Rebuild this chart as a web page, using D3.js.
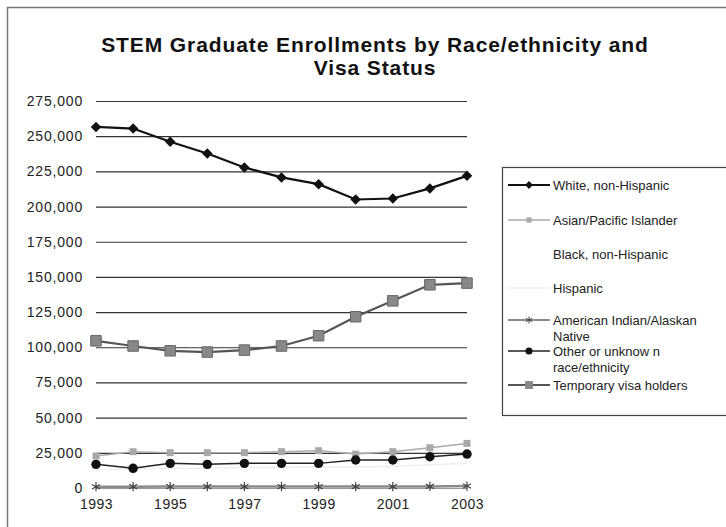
<!DOCTYPE html>
<html>
<head>
<meta charset="utf-8">
<script src="https://cdn.jsdelivr.net/npm/d3@7"></script>
<style>
  body { margin: 0; background: #fff; }
  svg { display: block; font-family: "Liberation Sans", Arial, sans-serif; }
</style>
</head>
<body>
<div id="wrapper"></div>
<script>
// years on the x axis
const years = [1993, 1994, 1995, 1996, 1997, 1998, 1999, 2000, 2001, 2002, 2003];
const yTicks = [0, 25000, 50000, 75000, 100000, 125000, 150000, 175000, 200000, 225000, 250000, 275000];

// series values
const white = [256600, 255400, 246000, 237700, 227800, 220700, 215900, 205000, 205700, 212900, 221800];
const asian = [22700, 25800, 25100, 25100, 25100, 25800, 26500, 24100, 25800, 28600, 31700];
const black = [19500, 20000, 20500, 21000, 21500, 22000, 22500, 23000, 23500, 24500, 25500];
const hispanic = [13000, 13500, 14000, 14000, 14500, 14500, 15000, 15000, 15500, 16500, 17500];
const amIndian = [900, 950, 1000, 1000, 1000, 1000, 1000, 1000, 1000, 1100, 1400];
const other = [16800, 14000, 17500, 16800, 17500, 17500, 17500, 19900, 19900, 22200, 24100];
const tempVisa = [104600, 100900, 97500, 96600, 98000, 100900, 108200, 121700, 133000, 144400, 145600];

const seriesNames = [
  "White, non-Hispanic",
  "Asian/Pacific Islander",
  "Black, non-Hispanic",
  "Hispanic",
  "American Indian/Alaskan Native",
  "Other or unknow n race/ethnicity",
  "Temporary visa holders"
];

function drawChart() {
  const width = 726, height = 527;
  const plot = { left: 96, right: 467, top: 101, bottom: 488 };

  const svg = d3.select("#wrapper").append("svg")
      .attr("width", width)
      .attr("height", height);

  // outer frame
  svg.append("rect")
      .attr("x", 7.5).attr("y", 7.5)
      .attr("width", 800).attr("height", 600)
      .attr("fill", "none")
      .attr("stroke", "#777")
      .attr("stroke-width", 1.5);

  // title
  const title = svg.append("text")
      .attr("text-anchor", "middle")
      .attr("font-weight", "bold")
      .attr("font-size", 21)
      .attr("letter-spacing", 0.9)
      .attr("fill", "#111");
  title.append("tspan").attr("x", 375).attr("y", 52).text("STEM Graduate Enrollments by Race/ethnicity and");
  title.append("tspan").attr("x", 375).attr("y", 75).text("Visa Status");

  // scales
  const xScale = d3.scalePoint()
      .domain(years)
      .range([plot.left, plot.right]);

  const yScale = d3.scaleLinear()
      .domain([0, 275000])
      .range([plot.bottom, plot.top]);

  const series = {
    white: { values: white, line: "#111", width: 2.2, marker: "diamond", fill: "#111", size: 7.5 },
    asian: { values: asian, line: "#aaa", width: 1.5, marker: "square", fill: "#a8a8a8", size: 7 },
    black: { values: black, line: "#ffffff", width: 1.5, marker: "none" },
    hispanic: { values: hispanic, line: "#eeeeee", width: 1.5, marker: "none" },
    amIndian: { values: amIndian, line: "#8a8a8a", width: 2.5, marker: "asterisk", fill: "#444", size: 60 },
    other: { values: other, line: "#222", width: 1.5, marker: "circle", fill: "#111", size: 70 },
    tempVisa: { values: tempVisa, line: "#555", width: 2.2, marker: "square", fill: "#888", size: 10.5 }
  };
  const drawOrder = ["black", "hispanic", "white", "asian", "amIndian", "other", "tempVisa"];

  const lineGen = d3.line()
      .x((d, i) => xScale(years[i]))
      .y(d => yScale(d));

  function markerPath(s, scale) {
    const k = scale || 1;
    if (s.marker == "diamond") {
      const h = s.size * k / Math.SQRT2 * Math.SQRT2 * 0.7;
      return `M0,${-h}L${h},0L0,${h}L${-h},0Z`;
    }
    if (s.marker == "square") {
      const h = s.size * k / 2;
      return `M${-h},${-h}H${h}V${h}H${-h}Z`;
    }
    if (s.marker == "circle") return d3.symbol(d3.symbolCircle, s.size * k * k)();
    if (s.marker == "asterisk") return d3.symbol(d3.symbolAsterisk, s.size * k * k)();
    return null;
  }

  // faint series behind the grid
  const backGroup = svg.append("g");
  drawOrder.map(k => series[k]).filter(s => s.marker == "none").forEach(s => {
    backGroup.append("path")
        .attr("d", lineGen(s.values))
        .attr("fill", "none")
        .attr("stroke", s.line)
        .attr("stroke-width", s.width);
  });

  // gridlines
  const yAxisGenerator = d3.axisLeft(yScale)
      .tickValues(yTicks)
      .tickSize(-(plot.right - plot.left))
      .tickPadding(13)
      .tickFormat(d3.format(","));

  const yAxis = svg.append("g")
      .attr("transform", `translate(${plot.left},0)`)
      .call(yAxisGenerator);
  yAxis.select(".domain").remove();
  yAxis.selectAll(".tick line")
      .attr("stroke", d => d == 0 ? "#999" : "#333")
      .attr("stroke-width", 1.2);
  yAxis.selectAll(".tick text")
      .attr("font-size", 14)
      .attr("letter-spacing", 0.8)
      .attr("fill", "#222");

  const xAxisGenerator = d3.axisBottom(xScale)
      .tickValues(years.filter(y => y % 2 == 1))
      .tickSize(0)
      .tickPadding(11);
  const xAxis = svg.append("g")
      .attr("transform", `translate(0,${plot.bottom})`)
      .call(xAxisGenerator);
  xAxis.select(".domain").remove();
  xAxis.selectAll(".tick text")
      .attr("font-size", 14)
      .attr("letter-spacing", 0.5)
      .attr("fill", "#222");

  // visible series
  const seriesGroup = svg.append("g");
  drawOrder.map(k => series[k]).filter(s => s.marker != "none").forEach(s => {
    seriesGroup.append("path")
        .attr("d", lineGen(s.values))
        .attr("fill", "none")
        .attr("stroke", s.line)
        .attr("stroke-width", s.width);

    seriesGroup.selectAll(null)
      .data(s.values)
      .join("path")
        .attr("transform", (d, i) => `translate(${xScale(years[i])},${yScale(d)})`)
        .attr("d", markerPath(s))
        .attr("fill", s.marker == "asterisk" ? "none" : s.fill)
        .attr("stroke", s.marker == "asterisk" ? s.fill : (s === series.tempVisa ? "#666" : "none"))
        .attr("stroke-width", s.marker == "asterisk" ? 1.2 : 1);
  });

  // legend
  const legend = svg.append("g");
  legend.append("rect")
      .attr("x", 502.5).attr("y", 167.5)
      .attr("width", 300).attr("height", 248)
      .attr("fill", "#fff")
      .attr("stroke", "#444")
      .attr("stroke-width", 1.2);

  const legendItems = [
    { key: "white", y: 185, lines: ["White, non-Hispanic"] },
    { key: "asian", y: 220, lines: ["Asian/Pacific Islander"] },
    { key: "black", y: 254, lines: ["Black, non-Hispanic"] },
    { key: "hispanic", y: 288, lines: ["Hispanic"] },
    { key: "amIndian", y: 320, lines: ["American Indian/Alaskan", "Native"] },
    { key: "other", y: 351, lines: ["Other or unknow n", "race/ethnicity"] },
    { key: "tempVisa", y: 385, lines: ["Temporary visa holders"] }
  ];

  legendItems.forEach(item => {
    const s = series[item.key];
    legend.append("line")
        .attr("x1", 508).attr("x2", 550)
        .attr("y1", item.y).attr("y2", item.y)
        .attr("stroke", s.line == "#ffffff" ? "#ffffff" : s.line)
        .attr("stroke-width", Math.min(s.width, 2));
    if (s.marker != "none") {
      legend.append("path")
          .attr("transform", `translate(529,${item.y})`)
          .attr("d", markerPath(s, 0.75))
          .attr("fill", s.marker == "asterisk" ? "none" : s.fill)
          .attr("stroke", s.marker == "asterisk" ? s.fill : "none");
    }
    const t = legend.append("text")
        .attr("font-size", 13)
        .attr("fill", "#222");
    item.lines.forEach((l, i) => {
      t.append("tspan")
          .attr("x", 553)
          .attr("y", item.y + 5 + i * 16)
          .text(l);
    });
  });
}
drawChart();
</script>
</body>
</html>
